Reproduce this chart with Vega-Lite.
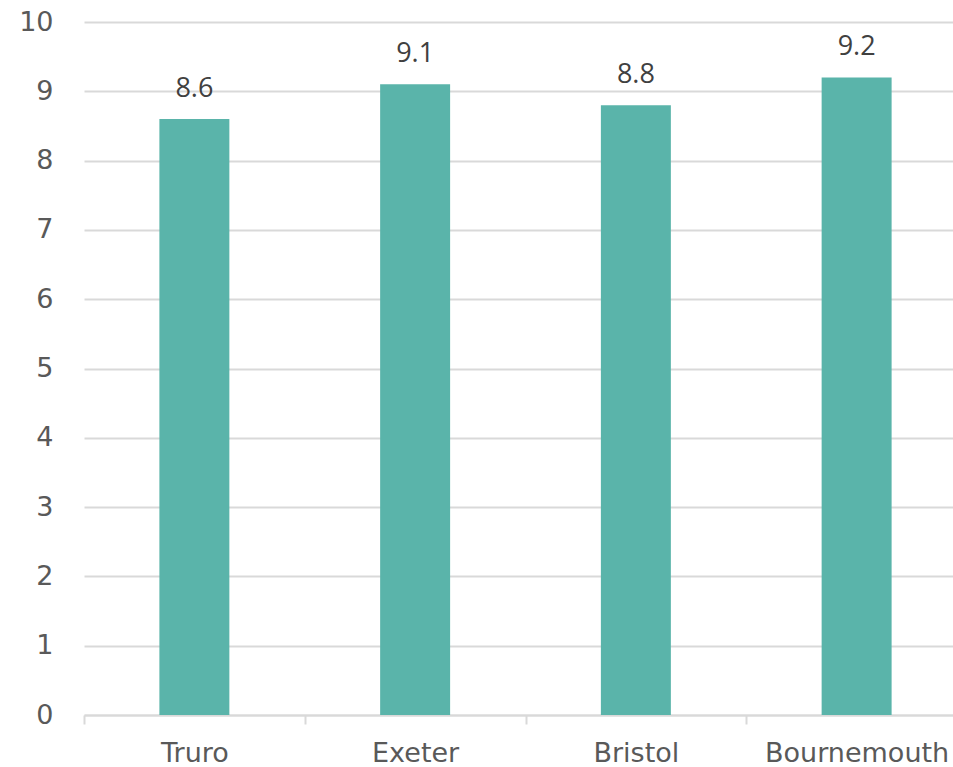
{
  "$schema": "https://vega.github.io/schema/vega-lite/v6.json",
  "autosize": {"type": "none"},
  "padding": {"left": 84, "top": 22, "right": 0, "bottom": 52},
  "width": 883,
  "height": 693,
  "background": "white",
  "config": {"view": {"stroke": null}},
  "data": {"values": [
    {"city": "Truro", "value": 8.6},
    {"city": "Exeter", "value": 9.1},
    {"city": "Bristol", "value": 8.8},
    {"city": "Bournemouth", "value": 9.2}
  ]},
  "encoding": {
    "x": {"field": "city", "type": "nominal", "sort": null,
      "scale": {"paddingInner": 0, "paddingOuter": 0},
      "axis": {"title": null, "labelAngle": 0, "tickBand": "extent",
        "domainColor": "#d9d9d9", "domainWidth": 2, "tickColor": "#d9d9d9", "tickWidth": 2, "tickSize": 9,
        "labelFont": "DejaVu Sans", "labelFontSize": 27, "labelColor": "#595959", "labelPadding": 16, "labelBaseline": "top", "labelOverlap": false, "labelBound": false, "labelLimit": 0}},
    "y": {"field": "value", "type": "quantitative",
      "scale": {"domain": [0, 10], "nice": false},
      "axis": {"title": null, "values": [0,1,2,3,4,5,6,7,8,9,10], "domain": false, "ticks": false, "labelOverlap": false,
        "gridColor": "#d9d9d9", "gridWidth": 2,
        "labelFont": "DejaVu Sans", "labelFontSize": 27, "labelColor": "#595959", "labelPadding": 31}}
  },
  "layer": [
    {"mark": {"type": "bar", "color": "#5AB4AA", "width": {"band": 0.317}}},
    {"mark": {"type": "text", "font": "Open Sans", "fontSize": 27, "color": "#404040", "baseline": "alphabetic", "dy": -22},
     "encoding": {"text": {"field": "value", "type": "quantitative", "format": ".1f"}}}
  ]
}
